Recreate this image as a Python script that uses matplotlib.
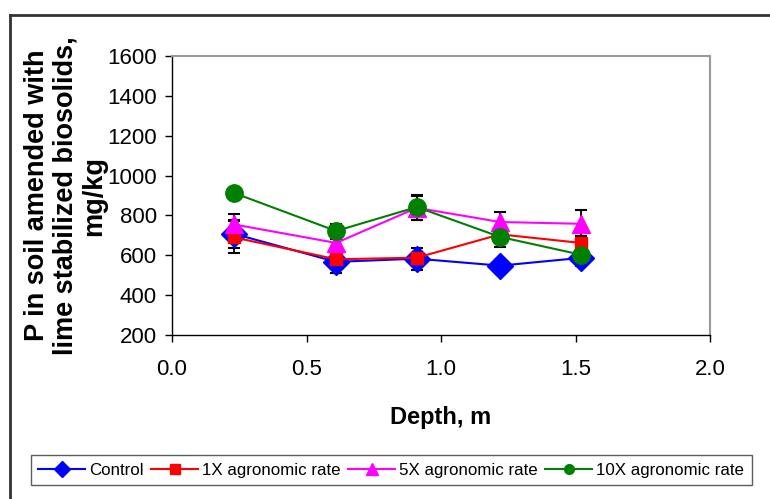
import matplotlib.pyplot as plt
from matplotlib.lines import Line2D

# Depth of each sampling layer, m
depth = [0.23, 0.61, 0.91, 1.22, 1.52]

series_names = ['Control', '1X agronomic rate', '5X agronomic rate', '10X agronomic rate']
control = [708, 567, 583, 548, 587]
rate_1x = [690, 580, 588, 705, 662]
rate_5x = [755, 662, 838, 767, 758]
rate_10x = [913, 722, 842, 692, 603]

# error bar half widths
control_err = [70, 58, 55, 20, 42]
rate_1x_err = [80, 30, 20, 20, 35]
rate_5x_err = [50, 20, 60, 50, 67]
rate_10x_err = [20, 36, 63, 52, 35]

yticks = [200, 400, 600, 800, 1000, 1200, 1400, 1600]
xticks = [0.0, 0.5, 1.0, 1.5, 2.0]

plt.rcParams['font.family'] = ['Liberation Sans', 'DejaVu Sans']

fig = plt.figure(figsize=(7.7, 4.99), dpi=100)
ax = fig.add_axes([172 / 770, 1 - 335 / 499, (710 - 172) / 770, (335 - 56) / 499])

# colour, marker, marker size in plot, marker size in legend
styles = [
    ('#0000FF', 'D', 13, 8),
    ('#FF0000', 's', 8.5, 7),
    ('#FF00FF', '^', 12.5, 8),
    ('#008000', 'o', 12.5, 7),
]
values = [control, rate_1x, rate_5x, rate_10x]
errors = [control_err, rate_1x_err, rate_5x_err, rate_10x_err]

for vals, err in zip(values, errors):
    ax.errorbar(depth, vals, yerr=err, fmt='none', ecolor='black',
                elinewidth=1.3, capsize=4.5, capthick=1.5, zorder=2)

for name, vals, (col, mk, ms, _) in zip(series_names, values, styles):
    ax.plot(depth, vals, color=col, lw=1.5, marker=mk, markersize=ms,
            markerfacecolor=col, markeredgecolor=col, label=name, zorder=3)

ax.set_xlim(0, 2.0)
ax.set_ylim(200, 1600)
ax.set_xticks(xticks)
ax.set_xticklabels([f'{t:.1f}' for t in xticks])
ax.set_yticks(yticks)
ax.tick_params(axis='both', direction='out', length=5, width=1, labelsize=16, pad=6)
ax.tick_params(axis='x', pad=12)

for side in ['top', 'right']:
    ax.spines[side].set_color('#999999')
    ax.spines[side].set_linewidth(1.5)
for side in ['left', 'bottom']:
    ax.spines[side].set_color('black')
    ax.spines[side].set_linewidth(1)

ax.set_xlabel('Depth, m', fontsize=17, fontweight='bold', labelpad=19)
ax.set_ylabel('P in soil amended with\nlime stabilized biosolids,\nmg/kg',
              fontsize=19.5, fontweight='bold', linespacing=1.12, labelpad=0)

leg_handles = [Line2D([0], [0], color=c, lw=1.5, marker=m, markersize=lms,
                      markerfacecolor=c, markeredgecolor=c) for c, m, _, lms in styles]
leg = fig.legend(leg_handles, series_names, loc='center', bbox_to_anchor=(0.508, 0.058),
                 ncol=4, frameon=True, fancybox=False, edgecolor='#333333',
                 prop={'family': ['Liberation Sans Narrow', 'Liberation Sans'], 'size': 12.2},
                 handlelength=2.76, handletextpad=0.23, columnspacing=0.46,
                 borderpad=0.45, borderaxespad=0)
leg.get_frame().set_linewidth(1)

# outer chart frame
fig.add_artist(Line2D([10 / 770, 10 / 770], [0, 1 - 15 / 499], color='#333333', lw=2))
fig.add_artist(Line2D([10 / 770, 1], [1 - 15 / 499, 1 - 15 / 499], color='#333333', lw=2))

fig.savefig('out.png', dpi=100)
